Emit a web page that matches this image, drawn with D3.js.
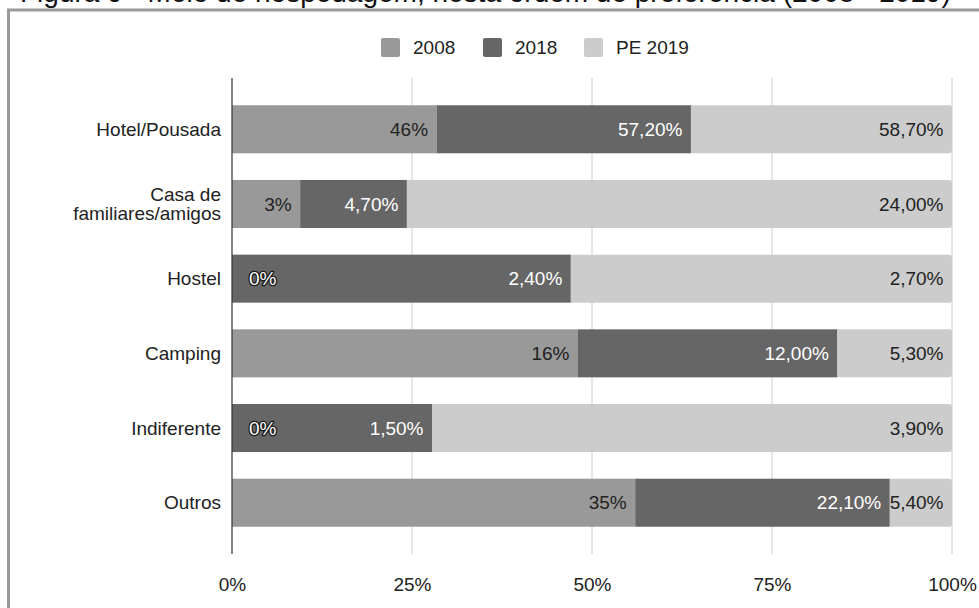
<!DOCTYPE html>
<html>
<head>
<meta charset="utf-8">
<script src="https://cdn.jsdelivr.net/npm/d3@7"></script>
<style>
  html, body { margin: 0; padding: 0; background: #fff; }
  svg { display: block; font-family: "Liberation Sans", Arial, sans-serif; }
</style>
</head>
<body>
<svg id="chart" width="979" height="608"></svg>
<script>
// Accommodation type, share per survey
const categories = ["Hotel/Pousada", "Casa de familiares/amigos", "Hostel", "Camping", "Indiferente", "Outros"];
const seriesNames = ["2008", "2018", "PE 2019"];
const values2008 = [46, 3, 0, 16, 0, 35];
const values2018 = [57.2, 4.7, 2.4, 12.0, 1.5, 22.1];
const valuesPE2019 = [58.7, 24.0, 2.7, 5.3, 3.9, 5.4];
const seriesDecimals = [0, 2, 2];
const seriesColors = ["#999999", "#666666", "#cccccc"];
const labelColors = ["#222222", "#ffffff", "#222222"];
const tickValues = [0, 0.25, 0.5, 0.75, 1];
const titleText = "Figura 9 - Meio de hospedagem, nesta ordem de preferência (2008 - 2019)";

const svg = d3.select("#chart");
const W = 979, H = 608;

// Frame and heading above it
svg.append("text")
  .attr("x", 20).attr("y", 2)
  .attr("font-size", 28).attr("fill", "#111")
  .text(titleText);
svg.append("path")
  .attr("d", `M8.5,${H} V10 H${W}`)
  .attr("fill", "none").attr("stroke", "#9a9a9a").attr("stroke-width", 3);

const seriesValues = [values2008, values2018, valuesPE2019];
const rows = categories.map((c, i) => {
  const row = { category: c };
  seriesNames.forEach((s, k) => row[s] = seriesValues[k][i]);
  return row;
});

const stacked = d3.stack().keys(seriesNames).offset(d3.stackOffsetExpand)(rows);

const x = d3.scaleLinear().domain([0, 1]).range([232, 952]);
const y = d3.scaleBand().domain(categories).range([78, 554])
  .paddingInner(0.357).paddingOuter(0.365);

// Grid lines
svg.append("g").selectAll("line")
  .data(tickValues.slice(1))
  .join("line")
  .attr("x1", d => x(d)).attr("x2", d => x(d))
  .attr("y1", 78).attr("y2", 554)
  .attr("stroke", "#cccccc").attr("stroke-width", 1);

// Tick labels via axis
const axis = d3.axisBottom(x).tickValues(tickValues).tickFormat(d3.format(".0%")).tickSize(0);
const axG = svg.append("g").attr("transform", "translate(0,574)").call(axis);
axG.select(".domain").remove();
axG.selectAll("text")
  .attr("font-size", 19).attr("fill", "#222").attr("dy", "0.71em")
  .attr("font-family", '"Liberation Sans", Arial, sans-serif');

const locale = d3.formatLocale({ decimal: ",", thousands: ".", grouping: [3], currency: ["", ""] });
const formats = seriesDecimals.map(d => locale.format(`.${d}f`));

function roundedRight(x0, y0, w, h, r) {
  r = Math.min(r, w);
  return `M${x0},${y0} H${x0 + w - r} Q${x0 + w},${y0} ${x0 + w},${y0 + r} V${y0 + h - r} Q${x0 + w},${y0 + h} ${x0 + w - r},${y0 + h} H${x0} Z`;
}

// Bars
const barsG = svg.append("g");
stacked.forEach((layer, k) => {
  const g = barsG.append("g");
  layer.forEach((seg, i) => {
    const x0 = x(seg[0]), x1 = x(seg[1]);
    const yb = y(categories[i]), h = y.bandwidth();
    if (x1 - x0 <= 0) return;
    if (k === stacked.length - 1) {
      g.append("path").attr("d", roundedRight(x0, yb, x1 - x0, h, 3)).attr("fill", seriesColors[k]);
    } else {
      g.append("rect").attr("x", x0).attr("y", yb).attr("width", x1 - x0).attr("height", h)
        .attr("fill", seriesColors[k]);
    }
  });
});

// Segment labels
const labelsG = svg.append("g").attr("font-size", 19);
stacked.forEach((layer, k) => {
  layer.forEach((seg, i) => {
    const x0 = x(seg[0]), x1 = x(seg[1]);
    const cy = y(categories[i]) + y.bandwidth() / 2;
    const txt = formats[k](seriesValues[k][i]) + "%";
    if (x1 - x0 < 1) {
      // empty segment: outlined label so it reads on the next bar
      labelsG.append("text")
        .attr("x", x0 + 17).attr("y", cy).attr("dy", "0.35em")
        .attr("text-anchor", "start")
        .attr("fill", "#ffffff").attr("stroke", "#1a1a1a").attr("stroke-width", 2.6)
        .attr("stroke-linejoin", "round")
        .style("paint-order", "stroke")
        .text(txt);
    } else {
      labelsG.append("text")
        .attr("x", x1 - 8.5).attr("y", cy).attr("dy", "0.35em")
        .attr("text-anchor", "end")
        .attr("fill", labelColors[k])
        .text(txt);
    }
  });
});

// Baseline
svg.append("line")
  .attr("x1", x(0)).attr("x2", x(0)).attr("y1", 78).attr("y2", 554)
  .attr("stroke", "#333").attr("stroke-width", 1.2);

// Category labels
const catG = svg.append("g").attr("font-size", 19).attr("fill", "#222").attr("text-anchor", "end");
categories.forEach(c => {
  const cy = y(c) + y.bandwidth() / 2;
  const lines = c === "Casa de familiares/amigos" ? ["Casa de", "familiares/amigos"] : [c];
  const t = catG.append("text").attr("x", 221).attr("y", cy);
  lines.forEach((ln, j) => {
    t.append("tspan").attr("x", 221)
      .attr("dy", j === 0 ? `${0.35 - (lines.length - 1) * 0.52}em` : "1.04em")
      .text(ln);
  });
});

// Legend
const legendX = [381, 483, 584];
const legG = svg.append("g");
seriesNames.forEach((s, k) => {
  legG.append("rect").attr("x", legendX[k]).attr("y", 38).attr("width", 19).attr("height", 19)
    .attr("rx", 2).attr("fill", seriesColors[k]);
  legG.append("text").attr("x", legendX[k] + 32).attr("y", 47.5).attr("dy", "0.35em")
    .attr("font-size", 19).attr("fill", "#222").text(s);
});
</script>
</body>
</html>
